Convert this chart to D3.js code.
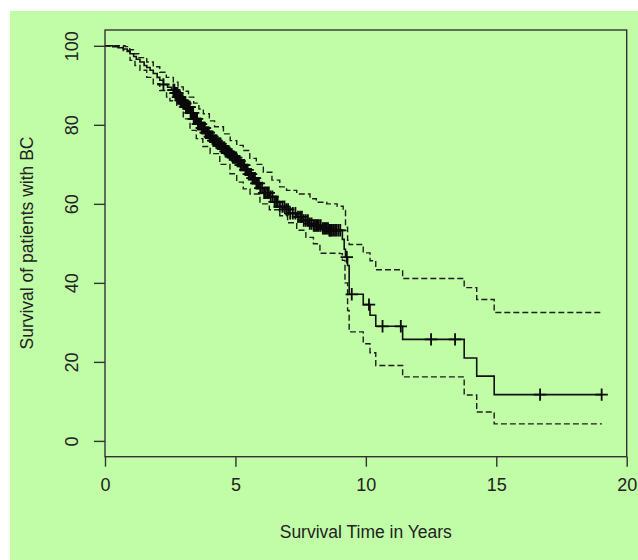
<!DOCTYPE html>
<html>
<head>
<meta charset="utf-8">
<style>
  body { margin: 0; background: #fff; }
  text { font-family: "Liberation Sans", Arial, sans-serif; fill: #222; }
</style>
</head>
<body>
<svg width="638" height="560"></svg>
<script src="https://cdn.jsdelivr.net/npm/d3@7"></script>
<script>
// Kaplan-Meier estimate, % surviving (time in years, value after the step)
var survTime = [0, 0.3, 0.5, 0.7, 0.85, 0.96, 1.1, 1.2, 1.34, 1.5, 1.6, 1.73, 1.85, 2.0, 2.1, 2.24, 2.4, 2.55, 2.68, 2.8,
  2.9, 3.0, 3.1, 3.26, 3.4, 3.55, 3.7, 3.85, 4.0, 4.15, 4.3, 4.45, 4.6, 4.75, 4.9, 5.05, 5.2, 5.35, 5.5, 5.65,
  5.8, 5.95, 6.1, 6.3, 6.5, 6.7, 6.9, 7.1, 7.35, 7.6, 7.8, 8.0, 8.3, 8.6, 9.1, 9.17, 9.22, 9.3, 9.36, 9.9,
  10.16, 10.38, 11.41, 13.77, 14.25, 14.92, 19.05];
var survVal = [100, 99.8, 99.5, 99.2, 98.6, 98.0, 97.3, 96.6, 95.9, 95.0, 94.5, 93.8, 93.0, 92.0, 91.3, 90.2, 89.5, 88.8, 88.0, 87.0,
  86.2, 85.4, 84.5, 83.0, 81.5, 80.2, 79.2, 78.0, 77.0, 76.0, 75.2, 74.2, 73.3, 72.5, 71.7, 70.8, 69.8, 68.6, 67.5, 66.5,
  65.2, 64.0, 62.8, 61.8, 60.5, 59.3, 58.6, 57.6, 56.7, 55.8, 55.0, 54.5, 53.8, 53.3, 51.0, 48.5, 46.5, 44.4, 37.1, 34.5,
  31.8, 29.0, 25.7, 21.0, 16.4, 11.7, 11.7];

// upper 95% confidence limit
var upperTime = [0, 0.5, 0.77, 0.95, 1.09, 1.3, 1.6, 1.85, 2.1, 2.35, 2.62, 2.8, 3.0, 3.2, 3.4, 3.6, 3.77, 4.0, 4.2, 4.54,
  4.8, 5.05, 5.3, 5.55, 5.8, 6.07, 6.4, 6.7, 6.96, 7.35, 7.86, 8.1, 8.5, 8.9, 9.13, 9.22, 9.3, 9.36, 9.9, 10.16,
  10.38, 11.41, 13.77, 14.25, 14.92, 19.05];
var upperVal = [100, 100, 99.8, 99.0, 98.0, 97.0, 95.9, 94.7, 93.3, 92.0, 90.8, 89.6, 88.5, 87.0, 85.5, 84.0, 82.8, 81.0, 79.5, 77.7,
  76.0, 74.8, 73.5, 71.5, 70.0, 68.0, 66.0, 64.3, 63.4, 62.5, 61.3, 60.4, 60.0, 59.4, 58.3, 54.1, 50.8, 49.7, 47.6, 45.6,
  43.3, 41.1, 38.8, 35.8, 32.5, 32.5];

// lower 95% confidence limit
var lowerTime = [0, 0.5, 0.7, 0.96, 1.15, 1.34, 1.6, 1.85, 2.1, 2.36, 2.49, 2.75, 3.0, 3.26, 3.5, 3.75, 4.03, 4.4, 4.79, 5.05,
  5.3, 5.56, 5.94, 6.3, 6.7, 7.0, 7.35, 7.7, 7.99, 8.24, 9.0, 9.1, 9.2, 9.3, 9.36, 9.9, 10.16, 10.38, 11.41, 13.77,
  14.25, 14.92, 19.05];
var lowerVal = [100, 100, 98.8, 96.3, 95.0, 93.8, 92.0, 90.4, 88.7, 87.0, 86.1, 84.5, 81.5, 78.6, 76.5, 74.5, 72.7, 70.0, 67.6, 65.5,
  63.8, 62.5, 60.0, 58.5, 57.0, 55.2, 53.3, 51.5, 49.9, 47.5, 47.4, 45.7, 40.0, 33.0, 27.6, 24.6, 22.3, 19.1, 16.2, 11.6,
  7.3, 4.3, 4.3];

// censored observations (years)
var censorTime = [2.24, 2.62, 2.66, 2.7, 2.73, 2.75, 2.78, 2.8, 2.83, 2.86, 2.88, 2.9, 2.93, 2.95, 2.98, 3.0, 3.03, 3.05, 3.08, 3.1,
  3.12, 3.14, 3.17, 3.2, 3.22, 3.25, 3.28, 3.3, 3.33, 3.35, 3.38, 3.4, 3.43, 3.45, 3.48, 3.5, 3.53, 3.56, 3.59, 3.62,
  3.65, 3.68, 3.71, 3.74, 3.77, 3.8, 3.83, 3.86, 3.89, 3.92, 3.95, 3.98, 4.02, 4.05, 4.08, 4.12, 4.15, 4.18, 4.22, 4.25,
  4.28, 4.32, 4.36, 4.4, 4.43, 4.47, 4.51, 4.55, 4.58, 4.62, 4.66, 4.7, 4.74, 4.78, 4.82, 4.86, 4.9, 4.95, 4.99, 5.03,
  5.08, 5.12, 5.16, 5.2, 5.25, 5.3, 5.34, 5.38, 5.42, 5.47, 5.51, 5.56, 5.6, 5.65, 5.7, 5.75, 5.8, 5.85, 5.9, 5.95,
  6.02, 6.1, 6.16, 6.22, 6.28, 6.35, 6.42, 6.5, 6.56, 6.62, 6.7, 6.8, 6.88, 6.95, 7.02, 7.1, 7.2, 7.3, 7.4, 7.48,
  7.55, 7.62, 7.7, 7.78, 7.85, 7.92, 8.0, 8.05, 8.1, 8.15, 8.2, 8.27, 8.35, 8.4, 8.45, 8.5, 8.55, 8.6, 8.62, 8.66,
  8.7, 8.76, 8.82, 8.88, 8.95, 9.02, 9.27, 9.46, 10.12, 10.64, 11.34, 12.5, 13.42, 16.68, 19.04];

var xTicks = [0, 5, 10, 15, 20];
var yTicks = [0, 20, 40, 60, 80, 100];

var svg = d3.select("svg");

svg.append("rect")
    .attr("x", 10).attr("y", 11)
    .attr("width", 628).attr("height", 549)
    .attr("fill", "#c1fda7");

var x = d3.scaleLinear().domain([0, 20]).range([105, 626.7]);
var y = d3.scaleLinear().domain([-4, 104]).range([456.7, 30]);

function pairs(t, v) { return t.map(function(d, i) { return [d, v[i]]; }); }

var step = d3.line()
    .x(function(d) { return x(d[0]); })
    .y(function(d) { return y(d[1]); })
    .curve(d3.curveStepAfter);

svg.append("path")
    .datum(pairs(upperTime, upperVal))
    .attr("d", step)
    .attr("fill", "none")
    .attr("stroke", "#1e1e1e")
    .attr("stroke-width", 1.4)
    .attr("stroke-dasharray", "6,3");

svg.append("path")
    .datum(pairs(lowerTime, lowerVal))
    .attr("d", step)
    .attr("fill", "none")
    .attr("stroke", "#1e1e1e")
    .attr("stroke-width", 1.4)
    .attr("stroke-dasharray", "6,3");

svg.append("path")
    .datum(pairs(survTime, survVal))
    .attr("d", step)
    .attr("fill", "none")
    .attr("stroke", "#111")
    .attr("stroke-width", 1.6);

// survival value at a censoring time (value of the step in force)
var bis = d3.bisector(function(d) { return d; }).right;
function survAt(t) { return survVal[Math.max(0, bis(survTime, t) - 1)]; }

svg.append("g")
    .attr("stroke", "#0a0a0a")
    .attr("stroke-width", 1.8)
  .selectAll("path")
  .data(censorTime)
  .enter().append("path")
    .attr("d", function(d) {
      var cx = x(d), cy = y(survAt(d)), r = 6.2;
      return "M" + (cx - r) + "," + cy + "H" + (cx + r) + "M" + cx + "," + (cy - r) + "V" + (cy + r);
    });

// box
svg.append("rect")
    .attr("x", 105).attr("y", 30)
    .attr("width", 626.7 - 105).attr("height", 456.7 - 30)
    .attr("fill", "none")
    .attr("stroke", "#333")
    .attr("stroke-width", 1.4);

var xAxis = svg.append("g")
    .attr("transform", "translate(0,456.7)")
    .call(d3.axisBottom(x).tickValues(xTicks).tickSize(10).tickPadding(12).tickFormat(d3.format("d")));
xAxis.select(".domain").remove();
xAxis.selectAll("line").attr("stroke", "#333").attr("stroke-width", 1.4);
xAxis.selectAll("text").attr("font-size", 18).attr("fill", "#222")
    .style("font-family", "'Liberation Sans', Arial, sans-serif");

var yAxis = svg.append("g")
    .attr("transform", "translate(105,0)")
    .call(d3.axisLeft(y).tickValues(yTicks).tickSize(11).tickPadding(0).tickFormat(d3.format("d")));
yAxis.select(".domain").remove();
yAxis.selectAll("line").attr("stroke", "#333").attr("stroke-width", 1.4);
yAxis.selectAll("text")
    .attr("font-size", 18).attr("fill", "#222")
    .style("font-family", "'Liberation Sans', Arial, sans-serif")
    .attr("text-anchor", "middle")
    .attr("x", 0).attr("dy", null)
    .attr("transform", "translate(-27,0) rotate(-90)");

svg.append("text")
    .attr("x", 365.8).attr("y", 538)
    .attr("text-anchor", "middle")
    .attr("font-size", 17.5)
    .text("Survival Time in Years");

svg.append("text")
    .attr("transform", "translate(33,243) rotate(-90)")
    .attr("text-anchor", "middle")
    .attr("font-size", 17.5)
    .text("Survival of patients with BC");
</script>
</body>
</html>
